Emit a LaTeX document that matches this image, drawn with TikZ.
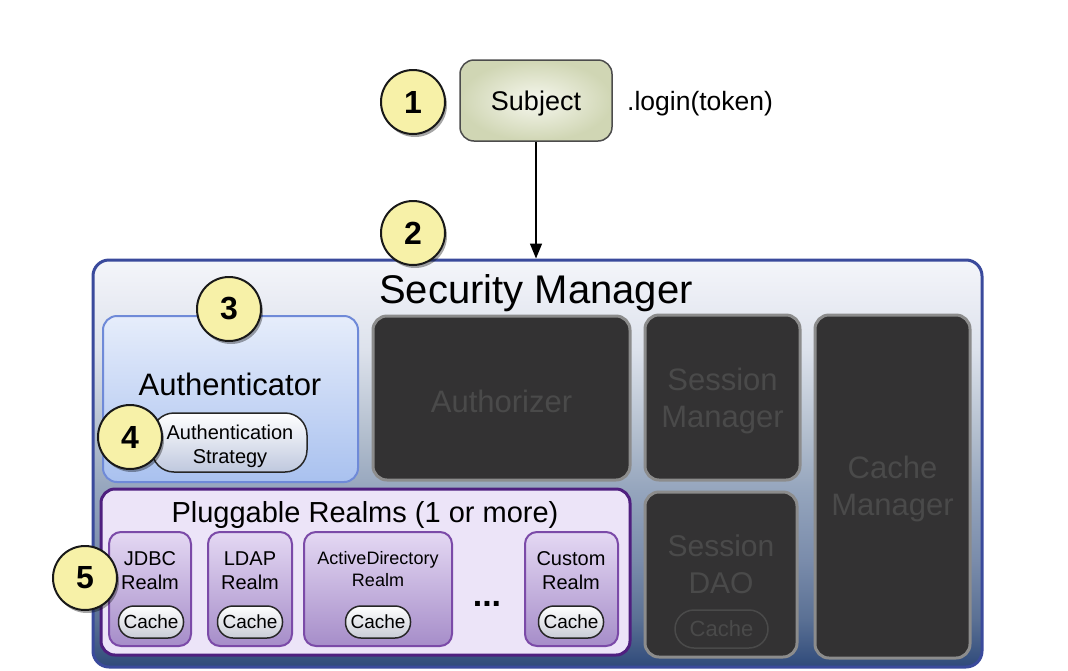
\documentclass[tikz,border=0pt]{standalone}
\usepackage{fontspec}
\setmainfont{Liberation Sans}
\usetikzlibrary{shadows,arrows.meta}
\definecolor{smA}{HTML}{F4F5FA}
\definecolor{smA2}{HTML}{DDE2EC}
\definecolor{smM}{HTML}{B0BCCC}
\definecolor{smM2}{HTML}{95A5BD}
\definecolor{smB}{HTML}{7A8CAB}
\definecolor{smB2}{HTML}{5A7094}
\definecolor{smC}{HTML}{2F4A7A}
\definecolor{smBorder}{HTML}{3A4A9C}
\definecolor{numFill}{HTML}{F7F1A8}
\definecolor{subjEdge}{HTML}{D0D6B4}
\definecolor{subjMid}{HTML}{F6F7EE}
\definecolor{authTop}{HTML}{E6EDFB}
\definecolor{authBot}{HTML}{A9C1EF}
\definecolor{authBorder}{HTML}{6F8AD8}
\definecolor{darkFill}{HTML}{333233}
\definecolor{darkBorder}{HTML}{8C8C8C}
\definecolor{darkText}{HTML}{4A4A4A}
\definecolor{plugFill}{HTML}{ECE4F8}
\definecolor{plugBorder}{HTML}{4F1F7F}
\definecolor{realmTop}{HTML}{E4D8F3}
\definecolor{realmBot}{HTML}{A68DC9}
\definecolor{realmBorder}{HTML}{7B4AA8}
\definecolor{pillBot}{HTML}{C9CCD6}
\definecolor{stratBot}{HTML}{BFC8DE}
\pgfdeclareverticalshading{smshade}{100bp}{color(0bp)=(smC); color(25bp)=(smC); color(30.8bp)=(smB2); color(38.1bp)=(smB); color(46.7bp)=(smM2); color(52.9bp)=(smM); color(64bp)=(smA2); color(75bp)=(smA); color(100bp)=(smA)}
\tikzset{
  boxbase/.style={rectangle, rounded corners=14pt, inner sep=0pt, align=center},
  darkbox/.style={boxbase, fill=darkFill, draw=darkBorder, line width=3pt},
  darktext/.style={inner sep=0pt, align=center, text=darkText, font=\fontsize{31}{37}\selectfont},
  realmbox/.style={boxbase, rounded corners=12pt, top color=realmTop, bottom color=realmBot, draw=realmBorder, line width=2pt},
  realmtext/.style={align=center, inner sep=0pt, font=\fontsize{20}{24}\selectfont},
  cachepill/.style={rectangle, rounded corners=15.5pt, minimum width=65pt, minimum height=32pt, inner sep=0pt, draw=black!85, line width=1.5pt, top color=white, bottom color=pillBot, font=\fontsize{19}{19}\selectfont},
  numcirc/.style={circle, draw=black!90, line width=2pt, fill=numFill, minimum size=64pt, inner sep=0pt, font=\fontsize{32}{32}\selectfont\bfseries, drop shadow={shadow xshift=2pt, shadow yshift=-3pt, opacity=0.35, fill=black}},
}
\begin{document}
\begin{tikzpicture}[x=1pt,y=-1pt]
\useasboundingbox (0,0) rectangle (1068,670);
% Security manager
\node[boxbase, rounded corners=16pt, minimum width=889pt, minimum height=407pt, shading=smshade, draw=smBorder, line width=3pt] (sm) at (537.5,463.5) {};
\node[inner sep=0pt, font=\fontsize{40}{40}\selectfont] (smtitle) at (536,293) {Security Manager};
% Subject
\node[boxbase, minimum width=152pt, minimum height=81pt, inner color=subjMid, outer color=subjEdge, draw=black!70, line width=1.5pt] (subject) at (536,100.5) {};
\node[inner sep=0pt, font=\fontsize{27}{27}\selectfont] (subjtext) at (536,104) {Subject};
\node[anchor=west, inner sep=0pt, font=\fontsize{26.5}{26.5}\selectfont] (login) at (627,104) {.login(token)};
\draw[line width=1.5pt, -{Triangle[length=15pt,width=12pt]}] (subject.south) -- (subject.south |- sm.north);
% Authenticator
\node[boxbase, minimum width=255pt, minimum height=166pt, top color=authTop, bottom color=authBot, draw=authBorder, line width=2pt] (auth) at (230.5,399) {};
\node[inner sep=0pt, font=\fontsize{31}{31}\selectfont] (authtext) at (230,384) {Authenticator};
\node[rectangle, rounded corners=22pt, minimum width=155pt, minimum height=59pt, inner sep=0pt, draw=black!85, line width=1.5pt, top color=white, bottom color=stratBot] (strat) at (229.5,442.5) {};
\node[inner sep=0pt, align=center, font=\fontsize{20}{24}\selectfont] (strattext) at (230,446) {Authentication\\Strategy};
% Dark boxes
\node[darkbox, minimum width=257pt, minimum height=164pt] (authz) at (501.5,398) {};
\node[darktext] (authztext) at (501.5,401) {Authorizer};
\node[darkbox, minimum width=155pt, minimum height=165pt] (sessmgr) at (722.5,397.5) {};
\node[darktext] (sessmgrtext) at (722.5,401) {Session\\Manager};
\node[darkbox, minimum width=155pt, minimum height=343pt] (cachemgr) at (892.5,486.5) {};
\node[darktext] (cachemgrtext) at (892.5,489) {Cache\\Manager};
\node[darkbox, minimum width=152pt, minimum height=165pt] (sessdao) at (721,574.5) {};
\node[darktext, font=\fontsize{30}{37}\selectfont] (sessdaotext) at (721,564) {Session\\DAO};
\node[rectangle, rounded corners=19pt, minimum width=93pt, minimum height=38pt, inner sep=0pt, draw=darkText, line width=1.5pt, text=darkText, font=\fontsize{22}{22}\selectfont] (daocache) at (721.5,629) {Cache};
% Pluggable realms
\node[boxbase, rounded corners=14pt, minimum width=529pt, minimum height=166pt, fill=plugFill, draw=plugBorder, line width=3pt] (plug) at (365.5,572) {};
\node[inner sep=0pt, font=\fontsize{29}{29}\selectfont] (plugtext) at (365,515) {Pluggable Realms (1 or more)};
\node[realmbox, minimum width=82pt, minimum height=114pt] (jdbc) at (150,589) {};
\node[realmbox, minimum width=84pt, minimum height=114pt] (ldap) at (250,589) {};
\node[realmbox, minimum width=148pt, minimum height=114pt] (ad) at (378,589) {};
\node[realmbox, minimum width=93pt, minimum height=114pt] (custom) at (571.5,589) {};
\node[realmtext] (jdbctext) at (150,571) {JDBC\\Realm};
\node[realmtext] (ldaptext) at (250,571) {LDAP\\Realm};
\node[realmtext, font=\fontsize{18}{22}\selectfont] (adtext) at (378,569) {ActiveDirectory\\Realm};
\node[realmtext] (customtext) at (571,571) {Custom\\Realm};
\node[cachepill] (jdbccache) at (151,622) {Cache};
\node[cachepill] (ldapcache) at (250,622) {Cache};
\node[cachepill] (adcache) at (378,622) {Cache};
\node[cachepill] (customcache) at (571,622) {Cache};
\node[inner sep=0pt, font=\fontsize{34}{34}\selectfont\bfseries] (dots) at (487,604) {...};
% Numbers
\node[numcirc] (n1) at (413,102) {1};
\node[numcirc] (n2) at (413,233) {2};
\node[numcirc] (n3) at (229,309) {3};
\node[numcirc] (n4) at (130,437) {4};
\node[numcirc] (n5) at (85,578) {5};
\end{tikzpicture}
\end{document}
